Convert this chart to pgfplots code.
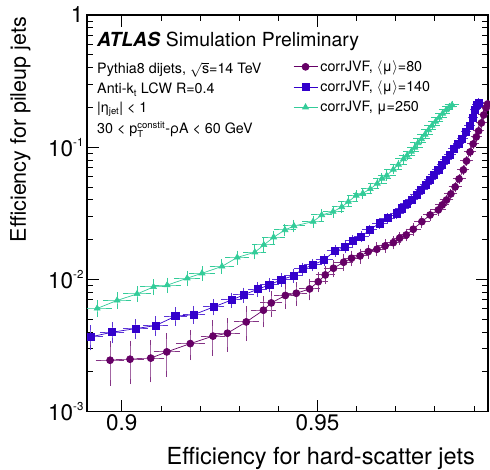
\documentclass[border=0pt]{standalone}
\usepackage{pgfplots}
\pgfplotsset{compat=1.18}
\usepackage{pgfplotstable}
\usepackage{fontspec}
\setmainfont{TeX Gyre Heros}
\definecolor{cpur}{RGB}{102,0,102}
\definecolor{cblu}{RGB}{51,0,204}
\definecolor{cgrn}{RGB}{51,204,153}
\newcommand{\supx}[1]{\raisebox{10pt}{\fontsize{11.5}{12}\selectfont #1}}
\newcommand{\smx}{\fontsize{9.5}{10}\selectfont}

\pgfplotstableread{
x y ex ey
0.8970 0.002443 0.0030 0.0008
0.9021 0.002487 0.0028 0.0008
0.9074 0.002535 0.0028 0.0008
0.9115 0.002825 0.0027 0.0009
0.9175 0.003264 0.0030 0.0007
0.9233 0.003718 0.0025 0.00095
0.9270 0.003912 0.0025 0.00095
0.9318 0.004762 0.0025 0.0012
0.9362 0.005839 0.0025 0.0013
0.9382 0.006631 0.0022 0.0012
0.9418 0.007552 0.0022 0.0013
0.9446 0.007848 0.0020 0.0013
0.9480 0.008460 0.0020 0.0012
0.9502 0.009590 0.0018 0.0012
0.9520 0.010797 0.0018 0.0012
0.9541 0.012135 0.0017 0.0013
0.9567 0.013469 0.0017 0.0013
0.9587 0.014440 0.0016 0.0013
0.9609 0.015031 0.0016 0.0013
0.9630 0.016203 0.0015 0.0013
0.9652 0.016893 0.0015 0.0013
0.9673 0.017892 0.0015 0.0013
0.9694 0.018951 0.0014 0.0013
0.9710 0.020464 0.0014 0.0014
0.9727 0.021676 0.0014 0.0014
0.9745 0.023933 0.0013 0.0015
0.9767 0.027320 0.0013 0.0016
0.9788 0.030692 0.0012 0.0017
0.9809 0.033497 0.0012 0.0018
0.9819 0.03654 0.0011 0.0018
0.9830 0.03987 0.0011 0.0020
0.9841 0.04426 0.0010 0.0022
0.9852 0.05000 0.0010 0.0024
0.9862 0.05748 0.0010 0.0026
0.9873 0.06724 0.0009 0.0030
0.9881 0.07862 0.0009 0.0033
0.9890 0.09197 0.0009 0.0037
0.9898 0.10573 0.0008 0.0040
0.9906 0.11948 0.0008 0.0045
0.9912 0.13259 0.0008 0.0050
0.9919 0.15241 0.0007 0.0055
0.9925 0.17520 0.0007 0.0060
0.9931 0.19790 0.0007 0.0065
0.9935 0.21221 0.0006 0.0070
}\tabpur

\pgfplotstableread{
x y ex ey
0.8920 0.003666 0.0025 0.00063
0.8975 0.003980 0.0025 0.00055
0.9035 0.004237 0.0025 0.00055
0.9086 0.004466 0.0025 0.00055
0.9137 0.005258 0.0022 0.0006
0.9184 0.005407 0.0022 0.0006
0.9235 0.006183 0.0020 0.0006
0.9281 0.006987 0.0020 0.0006
0.9311 0.007621 0.0020 0.00065
0.9347 0.008415 0.0018 0.0007
0.9377 0.009070 0.0018 0.0007
0.9408 0.009947 0.0017 0.00075
0.9439 0.010666 0.0017 0.0008
0.9463 0.011990 0.0016 0.0008
0.9488 0.012849 0.0016 0.0008
0.9517 0.014018 0.0015 0.0009
0.9545 0.016489 0.0015 0.0010
0.9571 0.017490 0.0014 0.0010
0.9590 0.019624 0.0014 0.0011
0.9612 0.021039 0.0013 0.0011
0.9633 0.023639 0.0013 0.0012
0.9659 0.026561 0.0012 0.0013
0.9679 0.028989 0.0012 0.0014
0.9703 0.031623 0.0011 0.0015
0.9716 0.034499 0.0011 0.0016
0.9729 0.037178 0.0011 0.0017
0.9741 0.039866 0.0010 0.0018
0.9754 0.043500 0.0010 0.0020
0.9765 0.04746 0.0010 0.0021
0.9777 0.05176 0.0009 0.0022
0.9788 0.05647 0.0009 0.0024
0.9798 0.06163 0.0009 0.0026
0.9809 0.06724 0.0009 0.0028
0.9819 0.07336 0.0008 0.0030
0.9829 0.08003 0.0008 0.0032
0.9839 0.08730 0.0008 0.0035
0.9849 0.09692 0.0008 0.0038
0.9860 0.10666 0.0007 0.0042
0.9870 0.11636 0.0007 0.0045
0.9880 0.13031 0.0007 0.0050
0.9889 0.14463 0.0007 0.0055
0.9897 0.16631 0.0006 0.0060
0.9903 0.19112 0.0006 0.0065
0.9908 0.20853 0.0006 0.0070
0.9912 0.21787 0.0006 0.0070
}\tabblu

\pgfplotstableread{
x y ex ey
0.8937 0.006025 0.0030 0.0006
0.8988 0.006926 0.0030 0.0007
0.9039 0.007755 0.0029 0.0007
0.9081 0.008759 0.0028 0.0008
0.9116 0.009039 0.0028 0.0008
0.9167 0.010193 0.0027 0.0009
0.9205 0.011121 0.0026 0.0009
0.9256 0.012522 0.0025 0.0010
0.9295 0.014643 0.0024 0.0011
0.9340 0.016035 0.0023 0.0012
0.9363 0.018205 0.0023 0.0013
0.9388 0.020826 0.0022 0.0014
0.9417 0.023639 0.0022 0.0015
0.9440 0.025340 0.0021 0.0016
0.9489 0.027320 0.0021 0.0017
0.9511 0.030692 0.0020 0.0018
0.9540 0.032515 0.0020 0.0019
0.9562 0.035292 0.0019 0.0020
0.9579 0.038704 0.0019 0.0021
0.9599 0.043110 0.0018 0.0022
0.9616 0.044800 0.0018 0.0023
0.9635 0.048290 0.0017 0.0024
0.9653 0.053130 0.0017 0.0025
0.9665 0.057970 0.0016 0.0026
0.9677 0.061070 0.0016 0.0027
0.9694 0.067830 0.0016 0.0028
0.9707 0.073960 0.0015 0.0030
0.9720 0.081400 0.0015 0.0032
0.9729 0.086530 0.0015 0.0034
0.9740 0.092790 0.0014 0.0036
0.9749 0.099470 0.0014 0.0038
0.9757 0.107600 0.0014 0.0040
0.9766 0.115350 0.0014 0.0042
0.9775 0.124780 0.0013 0.0044
0.9784 0.134940 0.0013 0.0046
0.9793 0.145950 0.0013 0.0048
0.9802 0.156450 0.0013 0.0050
0.9811 0.167700 0.0013 0.0052
0.9820 0.179860 0.0012 0.0054
0.9829 0.191120 0.0012 0.0056
0.9837 0.201340 0.0012 0.0058
0.9844 0.208530 0.0012 0.0060
}\tabgrn

\begin{document}
\begin{tikzpicture}
\useasboundingbox (0,0) rectangle (490pt,470pt);
\begin{axis}[
  at={(87pt,58.5pt)}, anchor=south west,
  scale only axis, width=401pt, height=396.5pt,
  ymode=log, log basis y=10,
  xmin=0.8911, xmax=0.9936, ymin=0.001, ymax=1,
  xtick={0.9,0.95}, xticklabels={0.9,0.95},
  minor xtick={0.91,0.92,0.93,0.94,0.96,0.97,0.98,0.99},
  ytick={0.001,0.01,0.1,1},
  yticklabels={10\supx{-3},10\supx{-2},10\supx{-1},1},
  minor ytick={0.002,0.003,0.004,0.005,0.006,0.007,0.008,0.009,0.02,0.03,0.04,0.05,0.06,0.07,0.08,0.09,0.2,0.3,0.4,0.5,0.6,0.7,0.8,0.9},
  tick label style={font=\fontsize{22.5}{26}\selectfont},
  major tick length=12pt, minor tick length=6pt,
  every tick/.style={black, line width=0.8pt},
  axis line style={line width=1.1pt},
  xlabel={Efficiency for hard-scatter jets},
  ylabel={Efficiency for pileup jets},
  xlabel style={at={(axis description cs:0.9676,-0.1349)}, anchor=base east, inner sep=0pt, font=\fontsize{23.5}{28}\selectfont},
  ylabel style={at={(axis description cs:-0.192,0.995)}, anchor=north east, inner sep=0pt, font=\fontsize{21.5}{26}\selectfont},
  legend style={at={(axis description cs:0.5137,0.8916)}, anchor=north west, draw=none, fill=none,
    font=\fontsize{14.3}{17}\selectfont, row sep=3pt, inner sep=0pt,
    nodes={inner sep=2.5pt}},
  legend cell align=left,
  legend image code/.code={\draw[mark repeat=2,mark phase=2] plot coordinates {(0pt,0pt) (12pt,0pt) (24pt,0pt)};},
]
\addplot[cpur, line width=0.7pt, mark=*, mark size=3.5pt,
  error bars/.cd, x dir=both, x explicit, y dir=both, y explicit,
  error bar style={line width=1pt, cpur!60},
  error mark options={line width=1pt, cpur!80, mark size=2.6pt}]
  table[x=x, y=y, x error=ex, y error=ey] {\tabpur};
\addlegendentry{corrJVF, $\langle$μ$\rangle$=80}
\addplot[cblu, line width=0.7pt, mark=square*, mark size=3.6pt,
  error bars/.cd, x dir=both, x explicit, y dir=both, y explicit,
  error bar style={line width=1pt, cblu!60},
  error mark options={line width=1pt, cblu!80, mark size=2.6pt}]
  table[x=x, y=y, x error=ex, y error=ey] {\tabblu};
\addlegendentry{corrJVF, $\langle$μ$\rangle$=140}
\addplot[cgrn, line width=0.7pt, mark=triangle*, mark size=3.4pt,
  error bars/.cd, x dir=both, x explicit, y dir=both, y explicit,
  error bar style={line width=1pt, cgrn!70},
  error mark options={line width=1pt, cgrn, mark size=2.6pt}]
  table[x=x, y=y, x error=ex, y error=ey] {\tabgrn};
\addlegendentry{corrJVF, μ=250}

\node[anchor=base west, inner sep=0pt, font=\fontsize{19.4}{23}\selectfont] at (axis description cs:0.025,0.9218) {\textbf{\textit{ATLAS}} Simulation Preliminary};
\node[anchor=base west, inner sep=0pt, font=\fontsize{14.3}{17}\selectfont] at (axis description cs:0.025,0.8512) {Pythia8 dijets, $\sqrt{\hbox{s}}$=14 TeV};
\node[anchor=base west, inner sep=0pt, font=\fontsize{14.3}{17}\selectfont] at (axis description cs:0.025,0.8008) {Anti-k$_{\hbox{\smx t}}$ LCW R=0.4};
\node[anchor=base west, inner sep=0pt, font=\fontsize{14.3}{17}\selectfont] at (axis description cs:0.025,0.7535) {|η$_{\hbox{\smx jet}}$| < 1};
\node[anchor=base west, inner sep=0pt, font=\fontsize{14.3}{17}\selectfont] at (axis description cs:0.025,0.7005) {30 < p$^{\hbox{\smx constit}}_{\hbox{\smx T}}$-ρA < 60 GeV};
\end{axis}
\end{tikzpicture}
\end{document}
